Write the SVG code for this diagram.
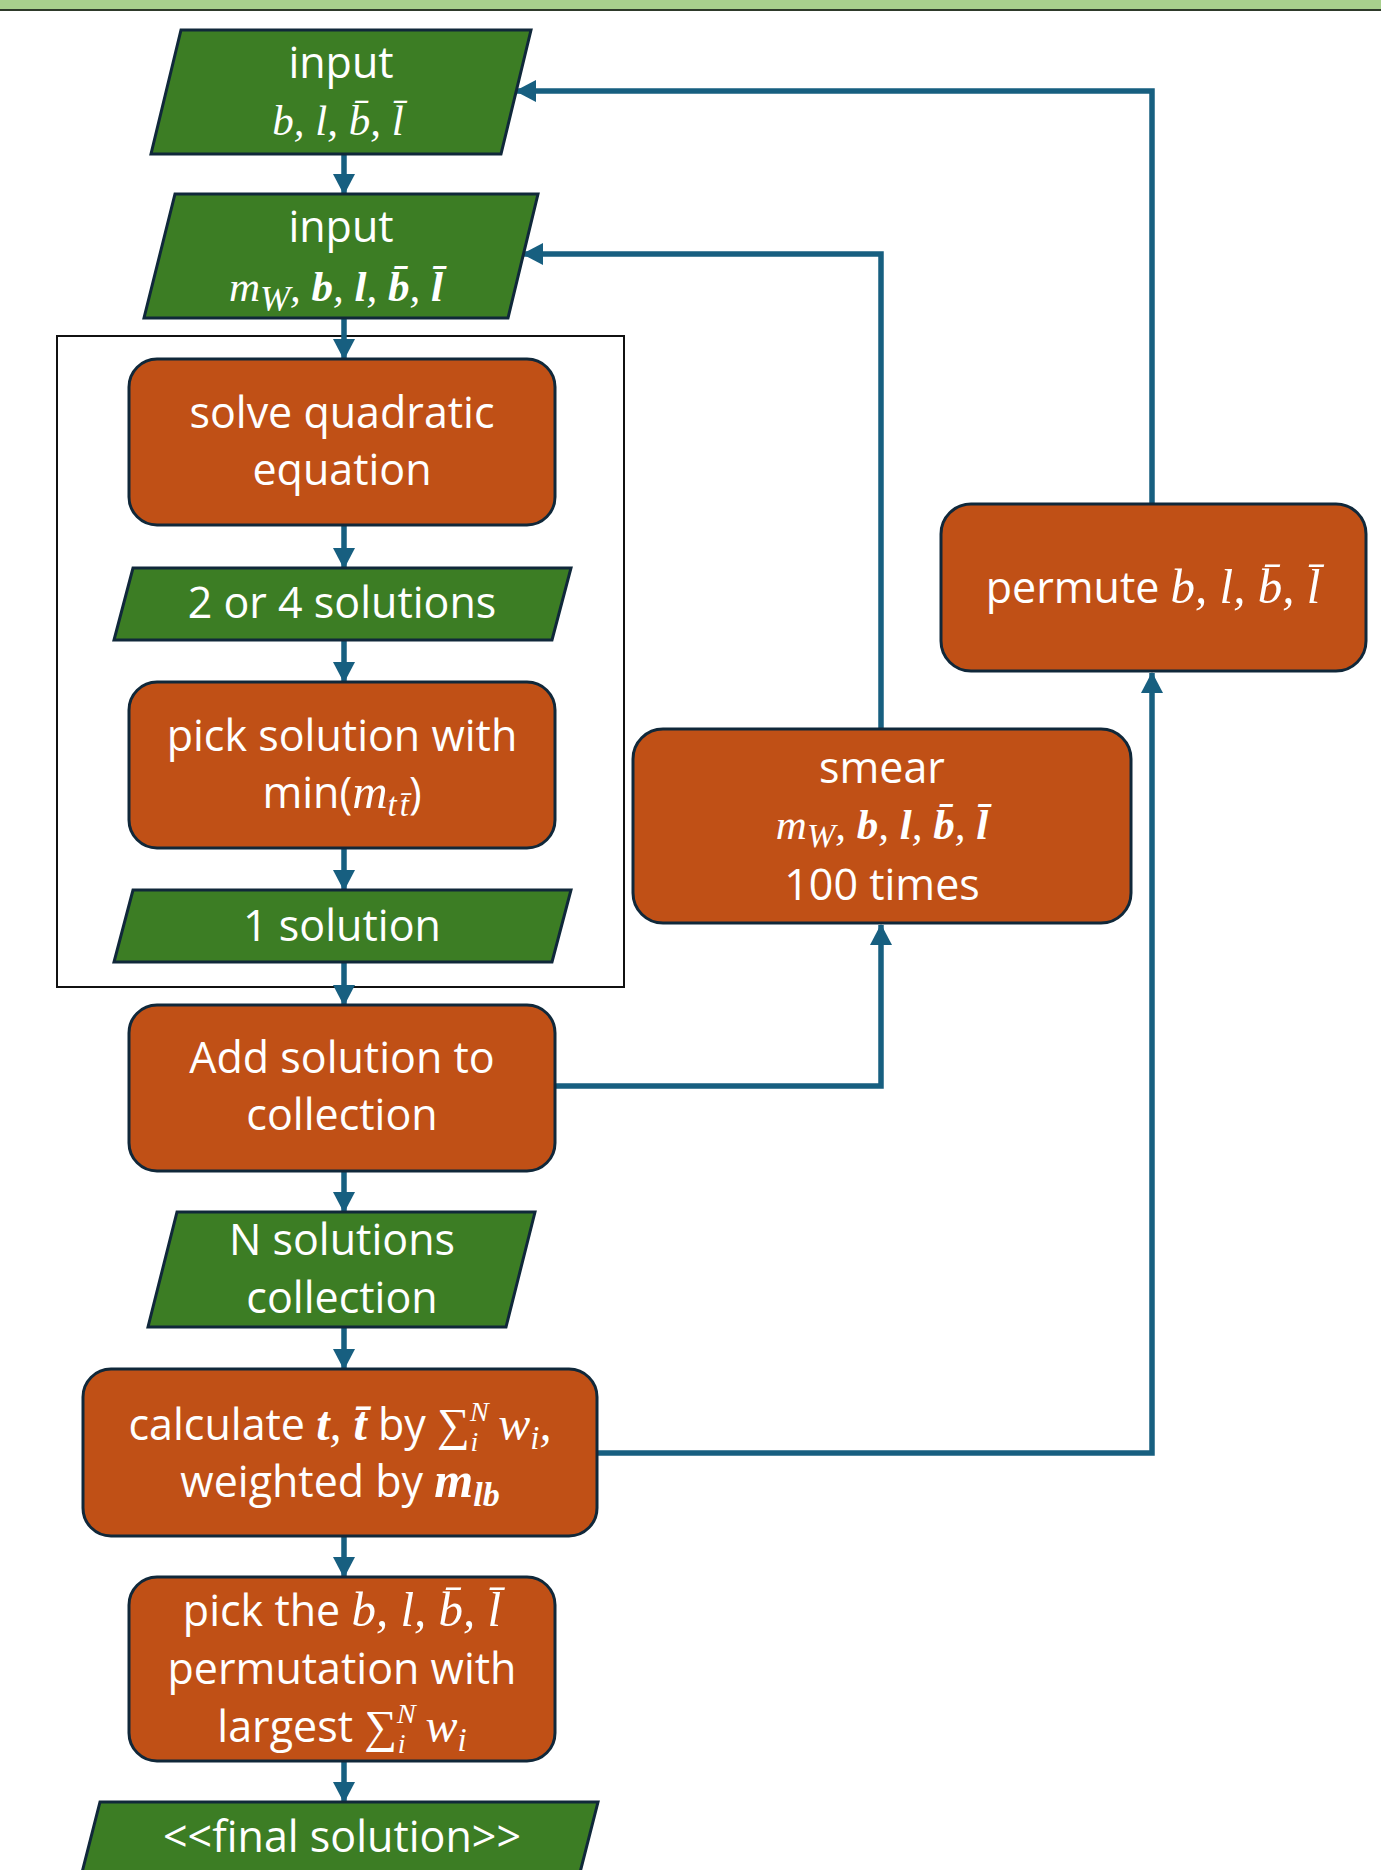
<svg xmlns="http://www.w3.org/2000/svg" width="1381" height="1870" viewBox="0 0 1381 1870">
<defs>
<style>
.io{fill:#3c7d24;stroke:#10283a;stroke-width:3;stroke-linejoin:miter}
.pr{fill:#c05016;stroke:#10283a;stroke-width:3}
.t{font-family:"Open Sans","Noto Sans",sans-serif;font-size:43px;fill:#ffffff;text-anchor:middle}
.m{font-family:"Liberation Serif","DejaVu Serif",serif;font-style:italic}
.bf{font-weight:bold}
.c{fill:none;stroke:#175f80;stroke-width:5.5}
.ca{fill:none;stroke:#175f80;stroke-width:5.5;marker-end:url(#ah)}
</style>
<marker id="ah" markerUnits="userSpaceOnUse" markerWidth="22" markerHeight="24" refX="20" refY="12" orient="auto" viewBox="0 0 22 24">
<path d="M0,1 L21,12 L0,23 z" fill="#175f80"/>
</marker>
</defs>
<rect x="0" y="0" width="1381" height="1870" fill="#ffffff"/>
<rect x="0" y="0" width="1381" height="9" fill="#a8d08d"/>
<rect x="0" y="9" width="1381" height="2" fill="#2e3a2a"/>

<g id="container">
<rect x="57" y="336" width="567" height="651" fill="none" stroke="#111111" stroke-width="2"/>
</g>

<g id="connectors">
<line class="ca" x1="344" y1="154" x2="344" y2="194"/>
<line class="ca" x1="344" y1="318" x2="344" y2="359"/>
<line class="ca" x1="344" y1="525" x2="344" y2="568"/>
<line class="ca" x1="344" y1="640" x2="344" y2="682"/>
<line class="ca" x1="344" y1="848" x2="344" y2="890"/>
<line class="ca" x1="344" y1="962" x2="344" y2="1005"/>
<line class="ca" x1="344" y1="1171" x2="344" y2="1212"/>
<line class="ca" x1="344" y1="1327" x2="344" y2="1369"/>
<line class="ca" x1="344" y1="1536" x2="344" y2="1577"/>
<line class="ca" x1="344" y1="1761" x2="344" y2="1802"/>
<polyline class="ca" points="555,1086 881,1086 881,925"/>
<polyline class="ca" points="881,729 881,254 523,254"/>
<polyline class="ca" points="597,1453 1152,1453 1152,673"/>
<polyline class="ca" points="1152,504 1152,91 516,91"/>
</g>

<g id="n1">
<polygon class="io" points="181,30 531,30 501,154 151,154"/>
<text class="t" x="341" y="78">input</text>
<text class="t m" x="338" y="135" font-size="49">b, l, b̄, l̄</text>
</g>

<g id="n2">
<polygon class="io" points="175,194 538,194 508,318 144,318"/>
<text class="t" x="341" y="242">input</text>
<text class="t m" x="336" y="301" font-size="52">m<tspan font-size="36" dy="10">W</tspan><tspan dy="-10">, </tspan><tspan class="bf">b</tspan>, <tspan class="bf">l</tspan>, <tspan class="bf">b̄</tspan>, <tspan class="bf">l̄</tspan></text>
</g>

<g id="n3">
<rect class="pr" x="129" y="359" width="426" height="166" rx="28"/>
<text class="t" x="342" y="428">solve quadratic</text>
<text class="t" x="342" y="485">equation</text>
</g>

<g id="n4">
<polygon class="io" points="133,568 571,568 552,640 114,640"/>
<text class="t" x="342" y="618">2 or 4 solutions</text>
</g>

<g id="n5">
<rect class="pr" x="129" y="682" width="426" height="166" rx="28"/>
<text class="t" x="342" y="751">pick solution with</text>
<text class="t" x="342" y="808">min(<tspan class="m" font-size="49">m</tspan><tspan class="m" font-size="33" dy="8">t</tspan><tspan class="m" font-size="33" dx="3">t̄</tspan><tspan dy="-8">)</tspan></text>
</g>

<g id="n6">
<polygon class="io" points="133,890 571,890 552,962 114,962"/>
<text class="t" x="342" y="941">1 solution</text>
</g>

<g id="n7">
<rect class="pr" x="129" y="1005" width="426" height="166" rx="28"/>
<text class="t" x="342" y="1073">Add solution to</text>
<text class="t" x="342" y="1130">collection</text>
</g>

<g id="n8">
<polygon class="io" points="177,1212 535,1212 506,1327 148,1327"/>
<text class="t" x="342" y="1255">N solutions</text>
<text class="t" x="342" y="1313">collection</text>
</g>

<g id="n9">
<rect class="pr" x="83" y="1369" width="514" height="167" rx="28"/>
<text class="t" x="340" y="1440">calculate <tspan class="m bf" font-size="48">t</tspan><tspan class="m" font-size="48">, </tspan><tspan class="m bf" font-size="48">t̄</tspan> by <tspan class="m" font-size="46" font-style="normal">∑</tspan><tspan class="m" font-size="28" dy="-19">N</tspan><tspan class="m" font-size="28" dx="-18" dy="30">i</tspan><tspan class="m" font-size="48" dx="20" dy="-11">w</tspan><tspan class="m" font-size="33" dy="9">i</tspan><tspan class="m" font-size="48" dy="-9">,</tspan></text>
<text class="t" x="340" y="1497">weighted by <tspan class="m bf" font-size="50">m</tspan><tspan class="m bf" font-size="34" dy="9">lb</tspan></text>
</g>

<g id="n10">
<rect class="pr" x="129" y="1577" width="426" height="184" rx="28"/>
<text class="t" x="342" y="1626">pick the <tspan class="m" font-size="49">b, l, b̄, l̄</tspan></text>
<text class="t" x="342" y="1684">permutation with</text>
<text class="t" x="342" y="1742">largest <tspan class="m" font-size="46" font-style="normal">∑</tspan><tspan class="m" font-size="28" dy="-19">N</tspan><tspan class="m" font-size="28" dx="-18" dy="30">i</tspan><tspan class="m" font-size="48" dx="20" dy="-11">w</tspan><tspan class="m" font-size="33" dy="9">i</tspan></text>
</g>

<g id="n11">
<polygon class="io" points="100,1802 598,1802 573,1900 75,1900"/>
<text class="t" x="342" y="1852">&lt;&lt;final solution&gt;&gt;</text>
</g>

<g id="n12">
<rect class="pr" x="633" y="729" width="498" height="194" rx="30"/>
<text class="t" x="882" y="783">smear</text>
<text class="t m" x="882" y="839" font-size="52">m<tspan font-size="34" dy="8">W</tspan><tspan dy="-8">, </tspan><tspan class="bf">b</tspan>, <tspan class="bf">l</tspan>, <tspan class="bf">b̄</tspan>, <tspan class="bf">l̄</tspan></text>
<text class="t" x="882" y="900">100 times</text>
</g>

<g id="n13">
<rect class="pr" x="941" y="504" width="425" height="167" rx="30"/>
<text class="t" x="1153" y="603">permute <tspan class="m" font-size="49">b, l, b̄, l̄</tspan></text>
</g>
</svg>
